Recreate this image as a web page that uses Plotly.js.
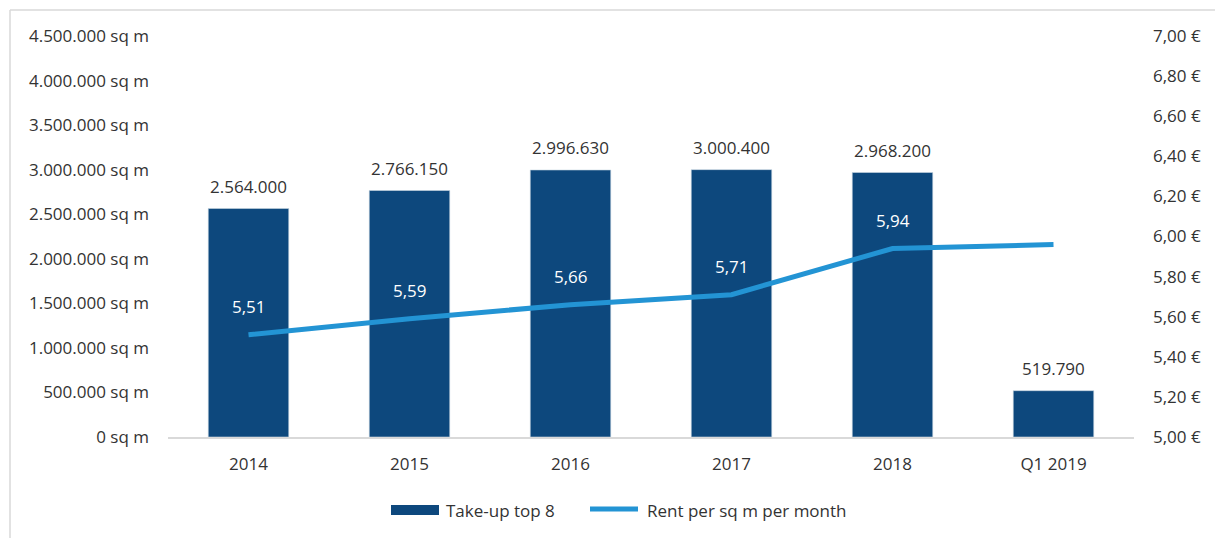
<!DOCTYPE html>
<html><head><meta charset="utf-8">
<script src="https://cdn.plot.ly/plotly-3.0.1.min.js"></script>
<style>html,body{margin:0;padding:0;background:#fff}#c{width:1215px;height:538px}</style>
</head><body><div id="c"></div>
<script>
const categories = ['2014','2015','2016','2017','2018','Q1 2019'];
const takeUp = [2564000, 2766150, 2996630, 3000400, 2968200, 519790];
const rent = [5.51, 5.59, 5.66, 5.71, 5.94, 5.96];
const rentLabels = ['5,51','5,59','5,66','5,71','5,94',''];
const takeUpLabels = ['2.564.000','2.766.150','2.996.630','3.000.400','2.968.200','519.790'];
const seriesNames = ['Take-up top 8', 'Rent per sq m per month'];

const FONT = 'Open Sans, Noto Sans, sans-serif';
const TXT = '#333333';
const BAR = '#0D487D';
const LINE = '#2394D4';

const traces = [
  {type:'bar', x:categories, y:takeUp, name:seriesNames[0], marker:{color:BAR, line:{color:'#c9d6e3', width:0.6}}, hoverinfo:'skip'},
  {type:'scatter', mode:'lines', x:categories, y:rent, yaxis:'y2', name:seriesNames[1], line:{color:LINE, width:5}, hoverinfo:'skip'}
];

const annotations = [];
categories.forEach((c,i)=>{
  annotations.push({x:i, y:takeUp[i], xref:'x', yref:'y', text:takeUpLabels[i], showarrow:false, yshift:22, font:{family:FONT, size:17, color:TXT}});
  if (rentLabels[i]) annotations.push({x:i, y:rent[i], xref:'x', yref:'y2', text:rentLabels[i], showarrow:false, yshift:28, font:{family:FONT, size:17, color:'#ffffff'}});
});
// custom legend (paper coords: x=(px-168)/966, y=(437-py)/401)
const px = v => (v-168)/966, py = v => (437-v)/401;
annotations.push({xref:'paper', yref:'paper', x:px(444), y:py(510), xanchor:'left', yanchor:'middle', text:seriesNames[0], showarrow:false, font:{family:FONT, size:17, color:TXT}});
annotations.push({xref:'paper', yref:'paper', x:px(645), y:py(510), xanchor:'left', yanchor:'middle', text:seriesNames[1], showarrow:false, font:{family:FONT, size:17, color:TXT}});

const layout = {
  width:1215, height:538,
  margin:{l:168, r:81, t:36, b:101},
  paper_bgcolor:'#fff', plot_bgcolor:'#fff',
  separators:',.',
  font:{family:FONT, size:17, color:TXT},
  showlegend:false,
  bargap:0.5,
  xaxis:{type:'category', range:[-0.5,5.5], showgrid:false, showline:true, linecolor:'#d9d9d9', linewidth:1.5, ticks:'', ticklabelstandoff:11, tickfont:{family:FONT, size:17, color:TXT}},
  yaxis:{range:[0,4500000], dtick:500000, tickformat:',d', ticksuffix:' sq m', showgrid:false, zeroline:false, showline:false, ticks:'', ticklabelstandoff:18, tickfont:{family:FONT, size:17, color:TXT}},
  yaxis2:{overlaying:'y', side:'right', range:[5,7], dtick:0.2, tickformat:'.2f', ticksuffix:' €', showgrid:false, zeroline:false, showline:false, ticks:'', ticklabelstandoff:18, tickfont:{family:FONT, size:17, color:TXT}},
  annotations:annotations,
  shapes:[
    {type:'line', xref:'paper', yref:'paper', x0:px(10), x1:1.2, y0:py(10), y1:py(10), line:{color:'#d9d9d9', width:1.5}},
    {type:'line', xref:'paper', yref:'paper', x0:px(10), x1:px(10), y0:py(10), y1:-0.4, line:{color:'#d9d9d9', width:1.5}},
    {type:'rect', xref:'paper', yref:'paper', x0:px(391), x1:px(439), y0:py(515), y1:py(505), fillcolor:BAR, line:{width:0}},
    {type:'line', xref:'paper', yref:'paper', x0:px(590), x1:px(638), y0:py(509), y1:py(509), line:{color:LINE, width:5}}
  ]
};
Plotly.newPlot('c', traces, layout, {displayModeBar:false, staticPlot:true});
</script></body></html>
